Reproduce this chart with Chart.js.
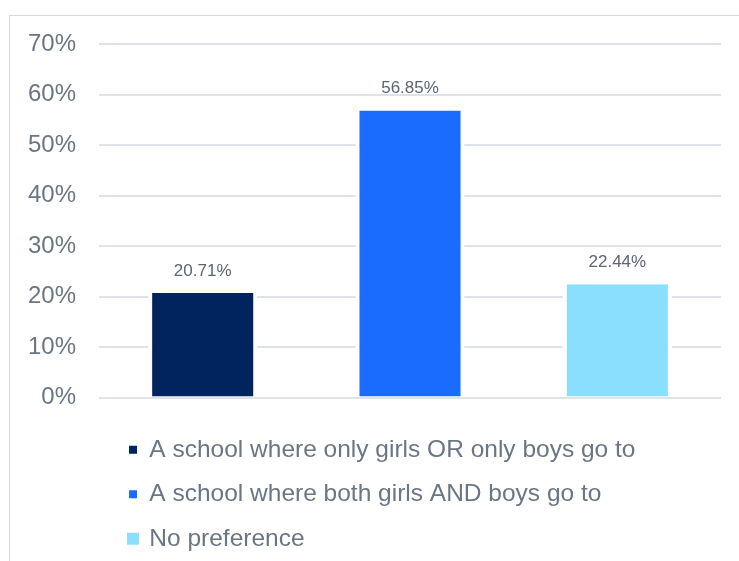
<!DOCTYPE html>
<html>
<head>
<meta charset="utf-8">
<script src="https://cdn.jsdelivr.net/npm/chart.js@4/dist/chart.umd.min.js"></script>
<style>
  html, body { margin: 0; padding: 0; background: #ffffff; }
  body { width: 739px; height: 561px; position: relative; overflow: hidden; }
  #frame {
    position: absolute; left: 9px; top: 15px; width: 730px; height: 546px;
    border-top: 1px solid #d9d9d9; border-left: 1px solid #d9d9d9; box-sizing: border-box;
  }
  #chart { display: block; }
</style>
</head>
<body>
<div id="frame"><canvas id="chart" width="729" height="545"></canvas></div>
<script>
// School preference survey: share of respondents per answer
const categories = [
  'A school where only girls OR only boys go to',
  'A school where both girls AND boys go to',
  'No preference'
];
const shares = [20.71, 56.85, 22.44];
const barColors = ['#00245d', '#1a6bff', '#8adfff'];
const legendBoxBorder = [0, 0, 4];
const yTicks = [0, 10, 20, 30, 40, 50, 60, 70];

const TICK_COLOR = '#6a7684';
const FONT = '"Liberation Sans", Arial, sans-serif';

// Percentage text printed above each bar
const valueLabels = {
  id: 'valueLabels',
  afterDatasetsDraw(chart) {
    const { ctx } = chart;
    const meta = chart.getDatasetMeta(0);
    ctx.save();
    ctx.font = '17px ' + FONT;
    ctx.fillStyle = '#5d6570';
    ctx.textAlign = 'center';
    ctx.textBaseline = 'alphabetic';
    meta.data.forEach((bar, i) => {
      ctx.fillText(shares[i].toFixed(2) + '%', bar.x, bar.y - 17);
    });
    ctx.restore();
  }
};

// Indent the stacked legend rows a little below and right of the plot
const legendIndent = {
  id: 'legendIndent',
  afterLayout(chart) {
    const lg = chart.legend;
    if (!lg) return;
    lg.left += 10; lg.right += 10;
    lg.top += 20; lg.bottom += 20;
  }
};

new Chart(document.getElementById('chart'), {
  type: 'bar',
  data: {
    labels: categories,
    datasets: [{
      data: shares,
      backgroundColor: barColors,
      borderColor: '#ffffff',
      borderWidth: { left: 4, right: 4, top: 0, bottom: 0 },
      borderSkipped: false,
      categoryPercentage: 1,
      barPercentage: 0.526
    }]
  },
  options: {
    responsive: false,
    animation: false,
    layout: { padding: { left: -5, right: 18, top: 28, bottom: 20 } },
    scales: {
      x: { display: false },
      y: {
        min: 0,
        max: 70,
        afterBuildTicks(axis) { axis.ticks = yTicks.map(v => ({ value: v })); },
        afterFit(axis) { axis.paddingTop = 0; axis.paddingBottom = 0; },
        border: { display: false },
        grid: { color: '#dfe2e7', lineWidth: 2, drawTicks: false },
        ticks: {
          padding: 23,
          color: TICK_COLOR,
          font: { family: FONT, size: 24 },
          callback: v => v + '%'
        }
      }
    },
    plugins: {
      tooltip: { enabled: false },
      legend: {
        position: 'bottom',
        align: 'start',
        fullSize: false,
        onClick: null,
        labels: {
          boxWidth: 8,
          boxHeight: 8,
          padding: 20,
          color: TICK_COLOR,
          font: { family: FONT, size: 24.5 },
          generateLabels: () => categories.map((c, i) => ({
            text: c,
            fillStyle: barColors[i],
            strokeStyle: barColors[i],
            lineWidth: legendBoxBorder[i],
            fontColor: TICK_COLOR,
            hidden: false,
            index: i
          }))
        }
      }
    }
  },
  plugins: [valueLabels, legendIndent]
});
</script>
</body>
</html>
